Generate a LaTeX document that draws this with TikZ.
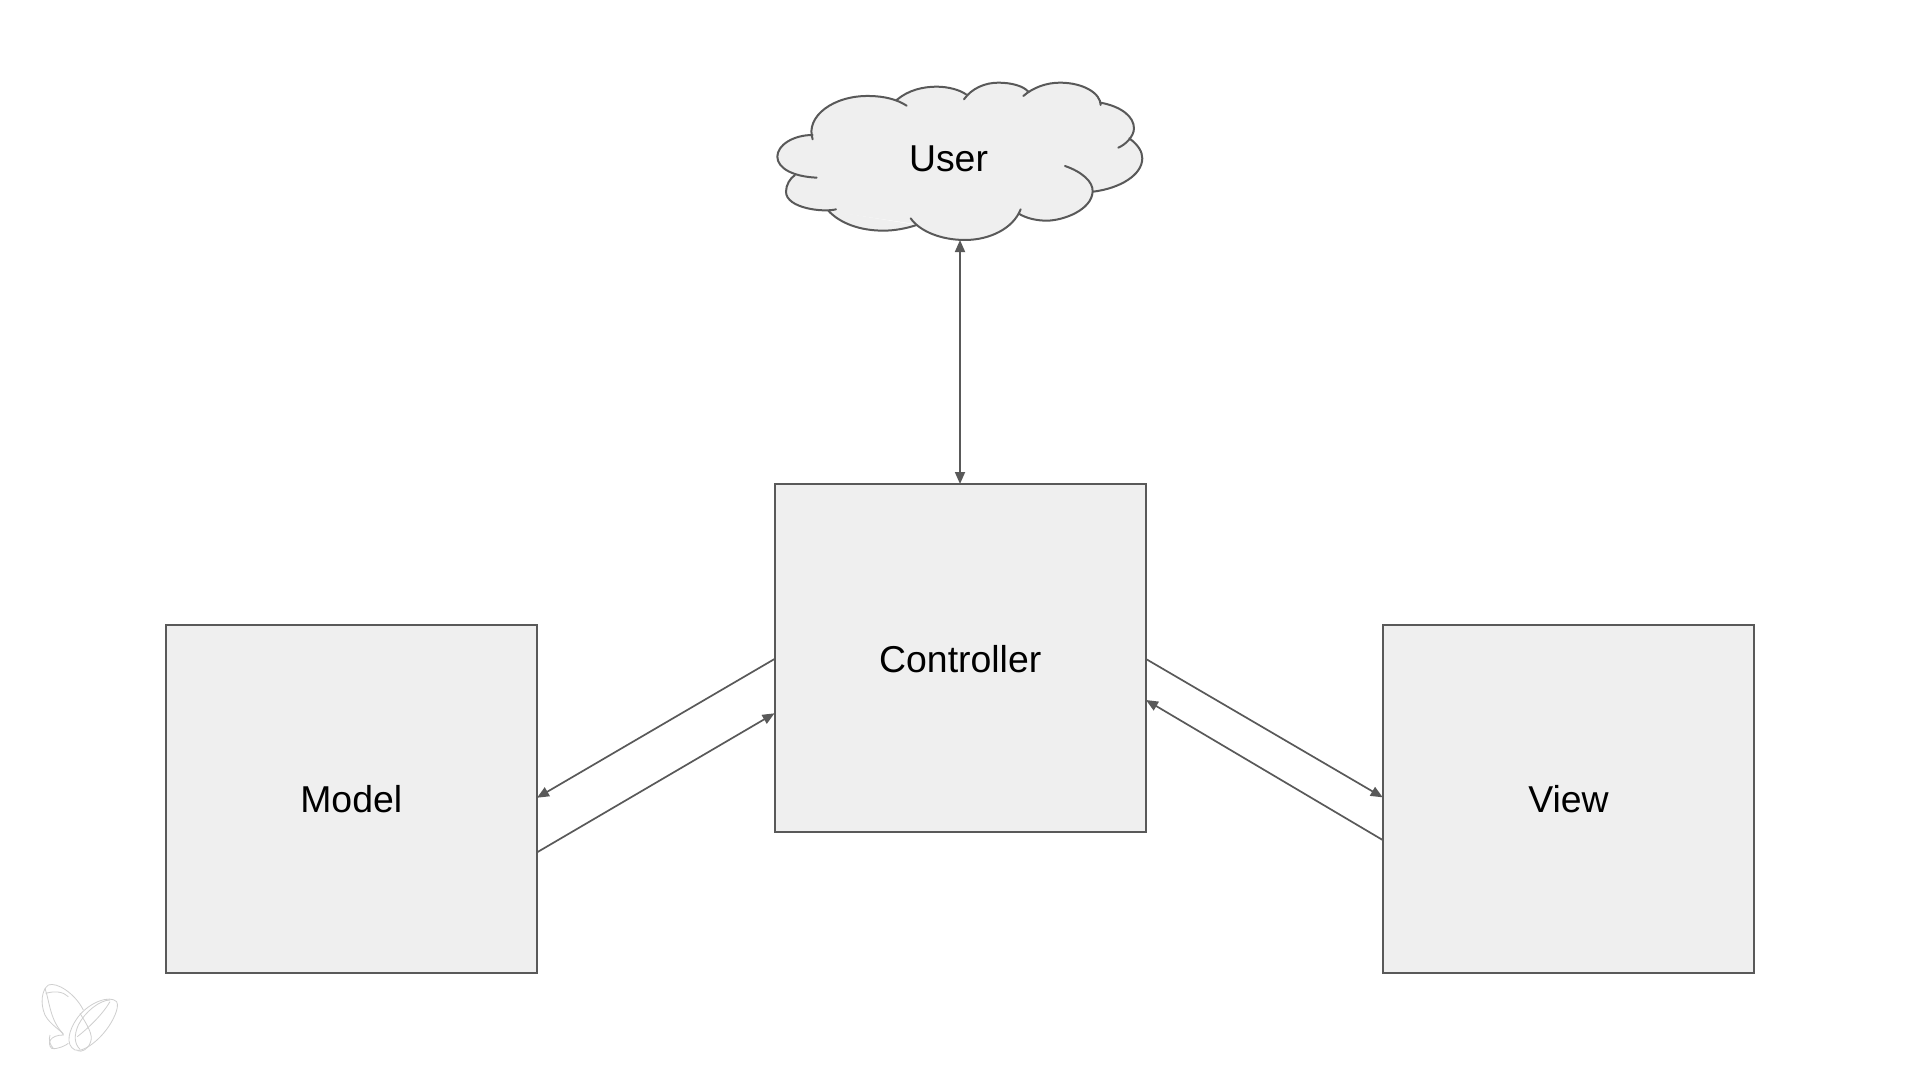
\documentclass[tikz,border=0pt]{standalone}
\usepackage{fontspec}
\setmainfont{Liberation Sans}
\usetikzlibrary{arrows.meta}
\definecolor{boxfill}{HTML}{EFEFEF}
\definecolor{edge}{HTML}{595959}
\definecolor{mark}{HTML}{CFCFCF}
\tikzset{
  labeltext/.style={font=\fontsize{37.4}{44}\selectfont,text=black},
  blockbox/.style={draw=edge,fill=boxfill,line width=2pt,inner sep=0pt,outer sep=0pt,minimum width=371.5pt,labeltext},
  link/.style={draw=edge,line width=1.7pt},
  tip/.style={-{Triangle[length=12pt,width=10pt]}},
  bothtips/.style={{Triangle[length=12pt,width=10pt]}-{Triangle[length=12pt,width=10pt]}},
  cloudline/.style={draw=edge,line width=2pt,line cap=round},
  wingline/.style={draw=mark,line width=0.8pt}
}
\def\lobeA{(158,238) .. controls (135,170) and (220,105) .. (330,108) .. controls (375,109) and (410,118) .. (440,137)}
\def\lobeB{(410,120) .. controls (445,90) and (490,80) .. (530,80) .. controls (565,80) and (600,90) .. (618,103)}
\def\lobeC{(612,118) .. controls (635,85) and (675,68) .. (715,68) .. controls (755,68) and (790,78) .. (805,95)}
\def\lobeD{(790,108) .. controls (820,82) and (860,68) .. (900,68) .. controls (970,68) and (1022,100) .. (1022,135)}
\def\lobeE{(1022,128) .. controls (1085,140) and (1122,170) .. (1122,205) .. controls (1122,230) and (1095,255) .. (1075,263)}
\def\lobeF{(1108,235) .. controls (1135,255) and (1147,275) .. (1147,295) .. controls (1147,345) and (1080,385) .. (1000,395)}
\def\lobeG{(915,318) .. controls (965,335) and (1000,365) .. (998,395) .. controls (995,450) and (910,482) .. (860,482) .. controls (830,482) and (800,475) .. (778,462)}
\def\lobeH{(782,448) .. controls (760,505) and (690,540) .. (615,540) .. controls (545,540) and (480,515) .. (452,475)}
\def\lobeI{(470,495) .. controls (440,505) and (405,512) .. (370,512) .. controls (300,512) and (240,490) .. (205,452)}
\def\lobeJ{(228,448) .. controls (190,458) and (78,445) .. (78,395) .. controls (78,375) and (90,355) .. (105,345)}
\def\lobeK{(170,353) .. controls (100,350) and (52,325) .. (52,290) .. controls (52,255) and (100,225) .. (158,225)}
\begin{document}
\begin{tikzpicture}[x=1pt,y=-1pt]
\useasboundingbox (0,0) rectangle (1920,1080);
\fill[white] (0,0) rectangle (1920,1080);

% cloud
\begin{scope}[shift={(760,60)},x=0.3333pt,y=-0.3333pt]
  \fill[boxfill] (158,230) -- (400,118) -- (530,90) -- (612,100) -- (715,80) -- (800,95) -- (900,80) -- (1022,130) -- (1110,235) -- (1000,395) -- (780,460) -- (615,535) -- (452,490) -- (215,455) -- (105,345) -- cycle;
  \foreach \lobe in {\lobeA,\lobeB,\lobeC,\lobeD,\lobeE,\lobeF,\lobeG,\lobeH,\lobeI,\lobeJ,\lobeK}{
    \fill[boxfill] \lobe -- cycle;
  }
  \foreach \lobe in {\lobeA,\lobeB,\lobeC,\lobeD,\lobeE,\lobeF,\lobeG,\lobeH,\lobeI,\lobeJ,\lobeK}{
    \draw[cloudline] \lobe;
  }
\end{scope}
\node[labeltext,inner sep=0pt] (user) at (948.5,158.5) {User};
\coordinate (userbase) at (960,240);

% boxes
\node[blockbox,minimum height=348pt,text depth=0pt] (ctrl) at (960.25,658) {\raisebox{-1pt}{Controller}};
\node[blockbox,minimum height=348.5pt] (model) at (351.25,798.75) {Model};
\node[blockbox,minimum height=348.5pt] (view) at (1568.5,798.75) {View};

% connection points
\coordinate (cmout) at ([yshift=-1pt]ctrl.west);
\coordinate (cmin) at ([yshift=-55.3pt]ctrl.west);
\coordinate (cvout) at ([yshift=-1pt]ctrl.east);
\coordinate (cvin) at ([yshift=-42pt]ctrl.east);
\coordinate (min) at ([yshift=1pt]model.east);
\coordinate (mout) at ([yshift=-53.6pt]model.east);
\coordinate (vin) at ([yshift=1.4pt]view.west);
\coordinate (vout) at ([yshift=-41.3pt]view.west);

% connectors
\draw[link,bothtips] (userbase) -- (userbase |- ctrl.north);
\draw[link,tip] (cmout) -- (min);
\draw[link,tip] (mout) -- (cmin);
\draw[link,tip] (cvout) -- (vin);
\draw[link,tip] (vout) -- (cvin);

% butterfly mark
\begin{scope}[shift={(0,960)},x=0.3333pt,y=-0.3333pt]
  \draw[wingline] (250,150) .. controls (225,100) and (170,65) .. (145,75) .. controls (125,90) and (120,130) .. (135,165) .. controls (150,195) and (190,215) .. (190,225) .. controls (150,225) and (140,250) .. (155,265) .. controls (170,270) and (200,255) .. (205,250);
  \draw[wingline] (135,85) .. controls (150,130) and (150,180) .. (190,222);
  \draw[wingline] (137,100) .. controls (165,92) and (190,95) .. (205,110);
  \draw[wingline] (150,225) .. controls (145,240) and (150,255) .. (160,265);
  \draw[wingline] (350,125) .. controls (330,105) and (270,125) .. (235,170) .. controls (205,210) and (195,255) .. (225,270) .. controls (255,280) and (320,225) .. (345,165) .. controls (352,148) and (355,135) .. (350,125);
  \draw[wingline] (330,120) .. controls (300,120) and (255,155) .. (235,195) .. controls (222,225) and (222,250) .. (240,268);
  \draw[wingline] (240,160) .. controls (262,195) and (280,225) .. (272,245) .. controls (265,268) and (245,278) .. (232,272);
  \draw[wingline] (232,230) .. controls (270,200) and (310,160) .. (330,125);
\end{scope}
\end{tikzpicture}
\end{document}
